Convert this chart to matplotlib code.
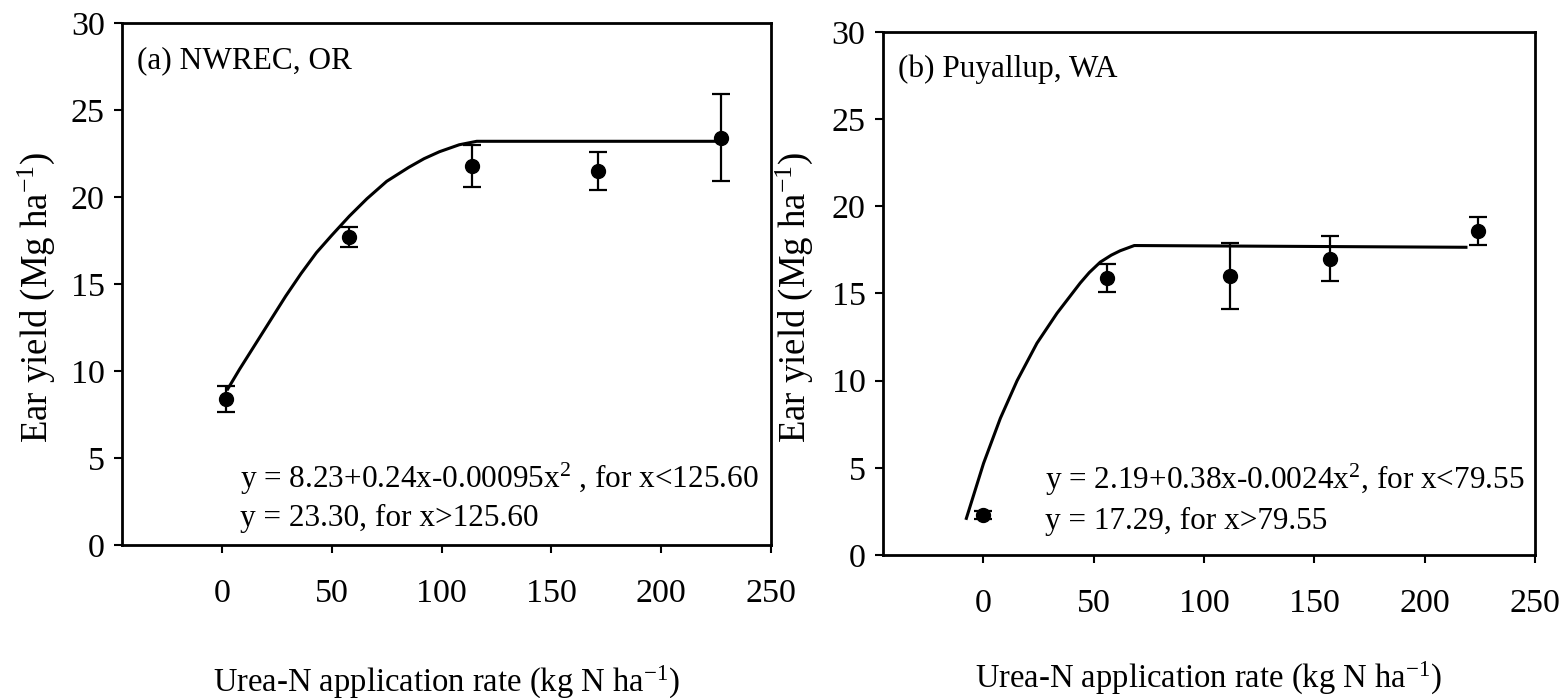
import matplotlib
matplotlib.use("Agg")
import matplotlib.pyplot as plt

plt.rcParams['font.family'] = ['Liberation Serif', 'DejaVu Serif']
plt.rcParams['mathtext.fontset'] = 'custom'
plt.rcParams['mathtext.rm'] = 'Liberation Serif'
plt.rcParams['mathtext.it'] = 'Liberation Serif:italic'

# (a) NWREC, OR - measured means and error bars
a_x = [2, 58, 114, 171, 227]
a_y = [8.4, 17.7, 21.8, 21.5, 23.4]
a_err = [0.75, 0.6, 1.2, 1.1, 2.5]
# fitted curve as drawn
a_curve_x = [2.6, 8, 15, 22, 29, 36, 43, 50, 58, 66, 75, 85, 92, 99, 108, 116, 227]
a_curve_y = [8.96, 10.1, 11.5, 12.9, 14.3, 15.6, 16.8, 17.8, 18.9, 19.9, 20.9, 21.7, 22.2, 22.6, 23.0, 23.2, 23.2]

# (b) Puyallup, WA
b_x = [0, 56, 112, 157, 224]
b_y = [2.3, 15.9, 16.0, 17.0, 18.6]
b_err = [0.25, 0.8, 1.9, 1.3, 0.8]
b_curve_x = [-7.7, 0.1, 7.7, 15.3, 24.3, 33.4, 43.9, 48, 53, 58, 62, 68.4, 218.7]
b_curve_y = [2.1, 5.26, 7.84, 10.0, 12.15, 13.87, 15.6, 16.2, 16.8, 17.2, 17.45, 17.75, 17.65]

x_ticks = [0, 50, 100, 150, 200, 250]
y_ticks = [0, 5, 10, 15, 20, 25, 30]

panel_titles = ["(a) NWREC, OR", "(b) Puyallup, WA"]
eq_lines = [
    ["y = 8.23+0.24x-0.00095x$^{2}$ , for x<125.60", "y = 23.30, for x>125.60"],
    ["y = 2.19+0.38x-0.0024x$^{2}$, for x<79.55", "y = 17.29, for x>79.55"],
]
xlabel = "Urea-N application rate (kg N ha$^{-1}$)"
ylabel = "Ear yield (Mg ha$^{-1}$)"

fig = plt.figure(figsize=(15.63, 6.98), dpi=100)
ax_a = fig.add_axes([0.0781, 0.2192, 0.4152, 0.7479])
ax_b = fig.add_axes([0.5649, 0.2049, 0.4172, 0.7493])

panels = [
    (ax_a, a_x, a_y, a_err, a_curve_x, a_curve_y),
    (ax_b, b_x, b_y, b_err, b_curve_x, b_curve_y),
]
eq_pos = [(8.4, 3.25, 1.08), (28, 3.76, 1.51)]
ylab_pos = [(-0.100, 0.475), (-0.104, 0.493)]
xlab_pos = [-0.228, -0.20]

for i, (ax, x, y, err, cx, cy) in enumerate(panels):
    ax.plot(cx, cy, color='black', lw=2.2)
    ax.errorbar(x, y, yerr=err, fmt='o', color='black', ms=10,
                capsize=6.5, elinewidth=1.6, capthick=1.6)
    ax.set_xlim(-45.5, 250)
    ax.set_ylim(0, 30)
    ax.set_xticks(x_ticks)
    ax.set_yticks(y_ticks)
    ax.tick_params(axis='x', direction='out', length=6, width=1.5, pad=18, labelsize=24.5)
    ax.tick_params(axis='y', direction='out', length=5.5, width=1.5, pad=7, labelsize=24.5)
    for s in ax.spines.values():
        s.set_linewidth(2)
    ax.text(0.023, 0.914, panel_titles[i], transform=ax.transAxes, fontsize=22.5,
            va='baseline', ha='left')
    ex, ey1, ey2 = eq_pos[i]
    ax.text(ex, ey1, eq_lines[i][0], fontsize=22.5, va='baseline', ha='left')
    ax.text(ex, ey2, eq_lines[i][1], fontsize=22.5, va='baseline', ha='left')
    ax.set_ylabel(ylabel, fontsize=26.5)
    ax.yaxis.set_label_coords(*ylab_pos[i])
    ax.set_xlabel(xlabel, fontsize=23.5, va='top')
    ax.xaxis.set_label_coords(0.5, xlab_pos[i])

fig.savefig("out.png", dpi=100)
